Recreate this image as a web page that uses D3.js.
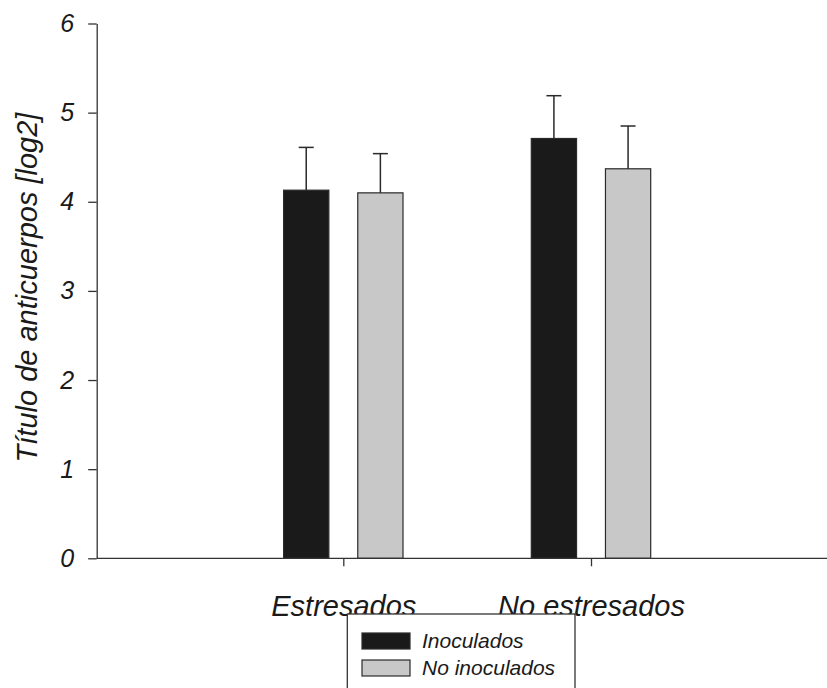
<!DOCTYPE html>
<html>
<head>
<meta charset="utf-8">
<script src="https://cdn.jsdelivr.net/npm/d3@7"></script>
<style>
  html, body { margin: 0; padding: 0; background: #fff; }
  svg { display: block; }
  text { font-family: "Liberation Sans", Arial, sans-serif; font-style: italic; fill: #1a1a1a; }
  .axis path, .axis line { stroke: #333; stroke-width: 1.3; }
</style>
</head>
<body>
<div id="chart"></div>
<script>
const categories = ["Estresados", "No estresados"];
const series = ["Inoculados", "No inoculados"];
const means = {
  "Inoculados":    [4.13, 4.71],
  "No inoculados": [4.10, 4.37]
};
const errors = {
  "Inoculados":    [0.48, 0.48],
  "No inoculados": [0.44, 0.48]
};
const yTicks = [0, 1, 2, 3, 4, 5, 6];
const colors = { "Inoculados": "#1a1a1a", "No inoculados": "#c8c8c8" };

const width = 827, height = 688;
const svg = d3.select("#chart").append("svg").attr("width", width).attr("height", height);

const y = d3.scaleLinear().domain([0, 6]).range([558.3, 23.5]);
const x = d3.scalePoint().domain(categories).range([95.6, 838.7]).padding(1);
const xs = d3.scaleBand().domain(series).range([-59.7, 59.7]).paddingInner(0.39);

const rows = [];
categories.forEach((c, i) => {
  series.forEach(s => rows.push({ cat: c, ser: s, value: means[s][i], err: errors[s][i] }));
});

// bars
svg.append("g").selectAll("rect")
  .data(rows).join("rect")
  .attr("x", d => x(d.cat) + xs(d.ser))
  .attr("width", xs.bandwidth())
  .attr("y", d => y(d.value))
  .attr("height", d => y(0) - y(d.value))
  .attr("fill", d => colors[d.ser])
  .attr("stroke", "#2a2a2a")
  .attr("stroke-width", 1.2);

// error bars (upper only)
const eg = svg.append("g").attr("stroke", "#2a2a2a").attr("stroke-width", 1.5);
eg.selectAll("line.v").data(rows).join("line").attr("class", "v")
  .attr("x1", d => x(d.cat) + xs(d.ser) + xs.bandwidth() / 2)
  .attr("x2", d => x(d.cat) + xs(d.ser) + xs.bandwidth() / 2)
  .attr("y1", d => y(d.value))
  .attr("y2", d => y(d.value + d.err));
eg.selectAll("line.c").data(rows).join("line").attr("class", "c")
  .attr("x1", d => x(d.cat) + xs(d.ser) + xs.bandwidth() / 2 - 7.5)
  .attr("x2", d => x(d.cat) + xs(d.ser) + xs.bandwidth() / 2 + 7.5)
  .attr("y1", d => y(d.value + d.err))
  .attr("y2", d => y(d.value + d.err));

// y axis
const gy = svg.append("g").attr("class", "axis").attr("transform", "translate(96.7,0)")
  .call(d3.axisLeft(y).tickValues(yTicks).tickSize(8.5).tickSizeOuter(0).tickPadding(14).tickFormat(d3.format("d")));
gy.selectAll("text").style("font-size", "25px").attr("fill", "#1a1a1a");

// x axis
const gx = svg.append("g").attr("class", "axis").attr("transform", `translate(0,${y(0)})`)
  .call(d3.axisBottom(x).tickSize(8).tickSizeOuter(0));
gx.select(".domain").remove();
gx.append("line").attr("x1", 96.7).attr("x2", width).attr("y1", 0).attr("y2", 0);
gx.selectAll("text").style("font-size", "29px").attr("fill", "#1a1a1a").attr("y", 57.5).attr("dy", 0);

// y label
svg.append("text")
  .attr("transform", `translate(37,${(113 + 462) / 2}) rotate(-90)`)
  .attr("text-anchor", "middle")
  .style("font-size", "29px")
  .text("Título de anticuerpos [log2]");

// legend
const lg = svg.append("g");
lg.append("rect").attr("x", 347.3).attr("y", 614).attr("width", 227.7).attr("height", 90)
  .attr("fill", "#fff").attr("stroke", "#333").attr("stroke-width", 1.3);
series.forEach((s, i) => {
  lg.append("rect").attr("x", 362).attr("y", 633 + i * 27).attr("width", 48).attr("height", 16)
    .attr("fill", colors[s]).attr("stroke", "#2a2a2a").attr("stroke-width", 1.2);
  lg.append("text").attr("x", 422).attr("y", 648 + i * 27).style("font-size", "21px").text(s);
});
</script>
</body>
</html>
